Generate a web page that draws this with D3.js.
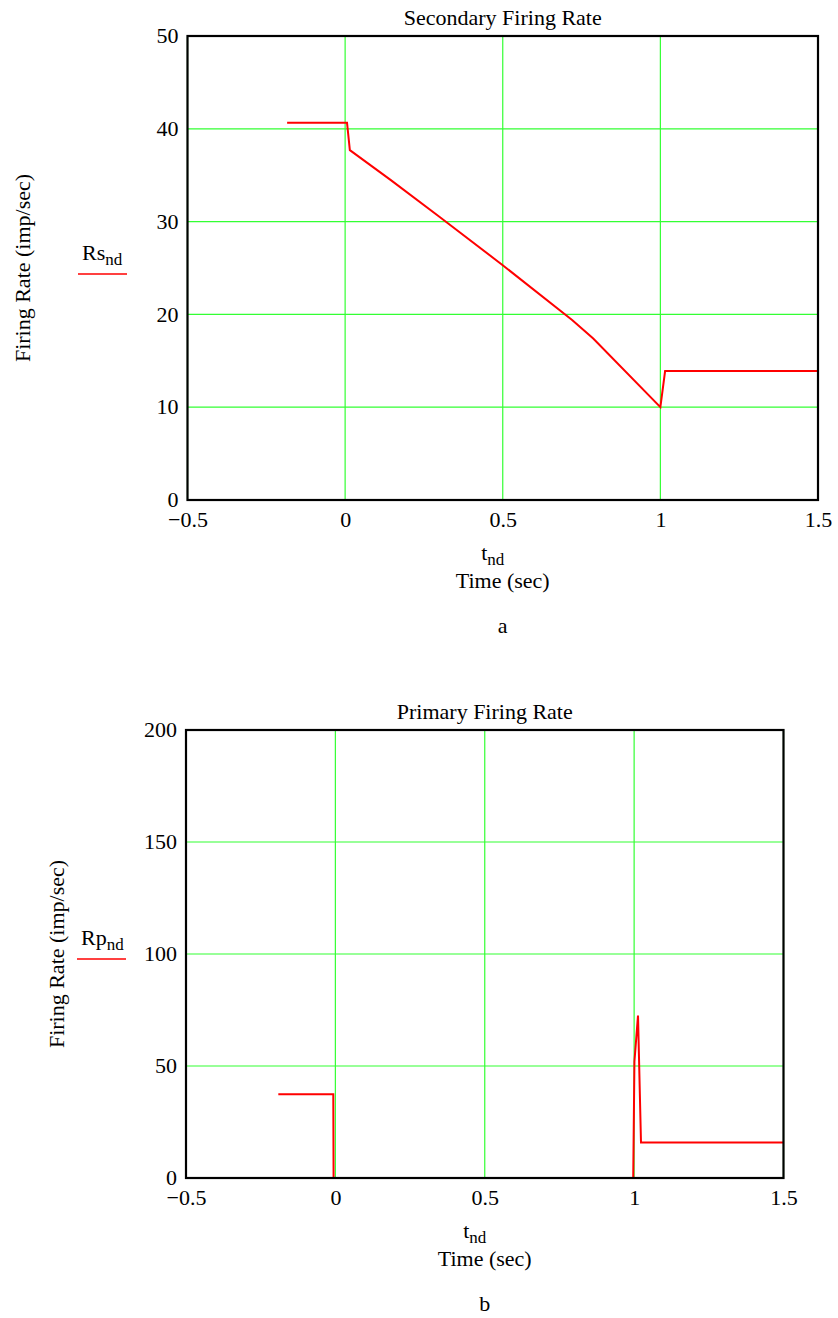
<!DOCTYPE html>
<html><head><meta charset="utf-8">
<script src="https://cdn.jsdelivr.net/npm/d3@7"></script>
<style>
body{margin:0;background:#fff;}
text{font-family:"Liberation Serif","Times New Roman",serif;fill:#000;}
</style></head>
<body><svg id="c" width="838" height="1318"></svg>
<script>
// Chart a: secondary firing rate
const secT = [-0.184, 0.006, 0.015, 0.144, 0.3, 0.5, 0.72, 0.787, 1.0, 1.015, 1.5];
const secR = [40.66, 40.66, 37.7, 34.5, 30.5, 25.3, 19.4, 17.4, 10.0, 13.9, 13.9];
// Chart b: primary firing rate
const priT = [-0.191, -0.007, -0.006, 0.997, 1.001, 1.013, 1.023, 1.5];
const priR = [37.4, 37.4, 0, 0, 52, 72.5, 15.8, 15.8];

const xTicks = [-0.5, 0, 0.5, 1, 1.5];
const xTickLabels = ["\u22120.5", "0", "0.5", "1", "1.5"];
const secYTicks = [0, 10, 20, 30, 40, 50];
const priYTicks = [0, 50, 100, 150, 200];

const FS = "22px", SUBFS = "17px";
const svg = d3.select("#c");

function subText(g, x, y, main, sub, anchor) {
  const t = g.append("text").attr("x", x).attr("y", y).attr("text-anchor", anchor || "start").style("font-size", FS);
  t.append("tspan").text(main);
  t.append("tspan").attr("dy", 5).style("font-size", SUBFS).text(sub);
  return t;
}

function chart(o) {
  const g = svg.append("g");
  const x = d3.scaleLinear().domain([-0.5, 1.5]).range([o.left, o.right]);
  const y = d3.scaleLinear().domain([0, o.ymax]).range([o.bottom, o.top]);

  // grid
  g.selectAll(".gx").data(xTicks).join("line")
    .attr("x1", d => x(d)).attr("x2", d => x(d)).attr("y1", o.top).attr("y2", o.bottom)
    .attr("stroke", "#33ff33").attr("stroke-width", 1.2);
  g.selectAll(".gy").data(o.yTicks).join("line")
    .attr("y1", d => y(d)).attr("y2", d => y(d)).attr("x1", o.left).attr("x2", o.right)
    .attr("stroke", "#33ff33").attr("stroke-width", 1.2);

  // data line
  const pts = o.t.map((t, i) => [t, o.r[i]]);
  g.append("path").datum(pts)
    .attr("d", d3.line().x(d => x(d[0])).y(d => y(d[1])))
    .attr("fill", "none").attr("stroke", "#ff0000").attr("stroke-width", 2);

  // frame
  g.append("rect").attr("x", o.left).attr("y", o.top)
    .attr("width", o.right - o.left).attr("height", o.bottom - o.top)
    .attr("fill", "none").attr("stroke", "#000").attr("stroke-width", 2.2);

  // axes tick labels via d3 axes (no lines)
  const ax = g.append("g").attr("transform", `translate(0,${o.bottom})`)
    .call(d3.axisBottom(x).tickValues(xTicks).tickFormat((d, i) => xTickLabels[i]).tickSize(0).tickPadding(11));
  ax.select(".domain").remove();
  ax.selectAll("text").style("font-size", FS).attr("font-family", null).attr("dy", "0.71em");
  const ay = g.append("g").attr("transform", `translate(${o.left},0)`)
    .call(d3.axisLeft(y).tickValues(o.yTicks).tickFormat(d3.format("d")).tickSize(0).tickPadding(9));
  ay.select(".domain").remove();
  ay.selectAll("text").style("font-size", FS).attr("font-family", null).attr("dy", "0.3em");

  const cx = (o.left + o.right) / 2;
  g.append("text").attr("x", cx).attr("y", o.top - 11).attr("text-anchor", "middle").style("font-size", FS).text(o.title);
  subText(g, cx - 10, o.bottom + 60, "t", "nd", "middle");
  g.append("text").attr("x", cx).attr("y", o.bottom + 88).attr("text-anchor", "middle").style("font-size", FS).text("Time (sec)");
  g.append("text").attr("x", cx).attr("y", o.bottom + 133).attr("text-anchor", "middle").style("font-size", FS).text(o.letter);

  g.append("text").attr("transform", `translate(${o.ylabX},${(o.top + o.bottom) / 2}) rotate(-90)`)
    .attr("text-anchor", "middle").style("font-size", FS).text("Firing Rate (imp/sec)");

  subText(g, o.legX, o.legY, o.legMain, "nd", "start");
  g.append("line").attr("x1", o.legX - 4).attr("x2", o.legX + 45).attr("y1", o.legY + 14).attr("y2", o.legY + 14)
    .attr("stroke", "#ff0000").attr("stroke-width", 1.5);
}

chart({left: 187.5, right: 818, top: 36, bottom: 500, ymax: 50, yTicks: secYTicks, t: secT, r: secR,
  title: "Secondary Firing Rate", letter: "a", ylabX: 30, legX: 82, legY: 260, legMain: "Rs"});
chart({left: 186, right: 783.5, top: 730, bottom: 1178, ymax: 200, yTicks: priYTicks, t: priT, r: priR,
  title: "Primary Firing Rate", letter: "b", ylabX: 64, legX: 81, legY: 945, legMain: "Rp"});
</script></body></html>
